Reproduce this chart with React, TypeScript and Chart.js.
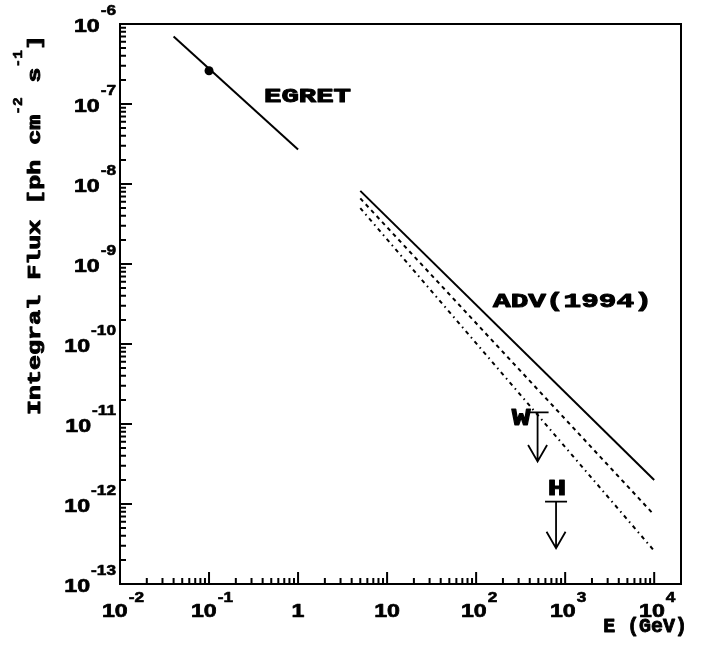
import React, { useEffect, useRef } from "react";
import { Chart, registerables } from "chart.js";

Chart.register(...registerables);

// ---- data ----
const egretE = [0.04, 1];
const egretFlux = [7.0e-7, 2.7e-8];
const egretPointE = [0.1];
const egretPointFlux = [2.6e-7];

const advE = [5, 10000];
const advSolidFlux = [8.2e-9, 2.0e-12];
const advDashedFlux = [6.6e-9, 7.3e-13];
const advDashDotFlux = [5.0e-9, 2.6e-13];

const limitLabels = ["W", "H"];
const limitE = [490, 790];
const limitFlux = [1.4e-11, 1.07e-12];
const limitTipFlux = [3.4e-12, 2.8e-13];

const xMin = 0.01;
const xMax = 2e4;
const yMin = 1e-13;
const yMax = 1e-6;

const xDecades = [-2, -1, 0, 1, 2, 3, 4];
const xTickBase = ["10", "10", "1", "10", "10", "10", "10"];
const xTickExp = ["-2", "-1", "", "", "2", "3", "4"];
const yDecades = [-13, -12, -11, -10, -9, -8, -7, -6];
const yTickBase = ["10", "10", "10", "10", "10", "10", "10", "10"];
const yTickExp = ["-13", "-12", "-11", "-10", "-9", "-8", "-7", "-6"];

const xTitle = "E (GeV)";
const yTitleParts = ["Integral Flux [ph cm", "-2", " s", "-1", "]"];
const egretLabel = "EGRET";
const advLabel = "ADV(1994)";

const MONO = "'Liberation Mono', 'DejaVu Sans Mono', monospace";
const SANS = "'Liberation Sans', Arial, sans-serif";

type Seg = { t: string; size: number; family: string; sx: number; rise?: number; dx?: number; w?: number };

function drawRich(
  ctx: CanvasRenderingContext2D,
  segs: Seg[],
  x: number,
  y: number,
  align: "left" | "right" | "center",
  angle = 0
) {
  ctx.save();
  ctx.translate(x, y);
  if (angle) ctx.rotate(angle);
  const widths = segs.map((s) => {
    ctx.font = `bold ${s.size}px ${s.family}`;
    return ctx.measureText(s.t).width * s.sx + (s.dx || 0);
  });
  const total = widths.reduce((a, b) => a + b, 0);
  let cx = align === "left" ? 0 : align === "right" ? -total : -total / 2;
  segs.forEach((s, i) => {
    ctx.save();
    ctx.font = `bold ${s.size}px ${s.family}`;
    ctx.fillStyle = "#000";
    ctx.strokeStyle = "#000";
    ctx.textAlign = "left";
    ctx.textBaseline = "alphabetic";
    ctx.translate(cx + (s.dx || 0), -(s.rise || 0));
    ctx.scale(s.sx, 1);
    ctx.fillText(s.t, 0, 0);
    if (s.w) {
      ctx.lineWidth = s.w;
      ctx.lineJoin = "round";
      ctx.strokeText(s.t, 0, 0);
    }
    ctx.restore();
    cx += widths[i];
  });
  ctx.restore();
}

const framePlugin = {
  id: "rootFrame",
  beforeDraw(chart: any) {
    const ctx = chart.ctx as CanvasRenderingContext2D;
    ctx.save();
    ctx.fillStyle = "#fff";
    ctx.fillRect(0, 0, chart.width, chart.height);
    ctx.restore();
  },
  afterDraw(chart: any) {
    const ctx = chart.ctx as CanvasRenderingContext2D;
    const xs = chart.scales.x;
    const ys = chart.scales.y;
    const { left, right, top, bottom } = chart.chartArea;
    ctx.save();
    ctx.strokeStyle = "#000";
    ctx.lineWidth = 2;
    ctx.strokeRect(left, top, right - left, bottom - top);

    // ticks
    ctx.lineWidth = 2;
    ctx.beginPath();
    xDecades.forEach((d) => {
      for (let m = 1; m <= 9; m++) {
        const v = m * Math.pow(10, d);
        if (v < xMin || v >= xMax) continue;
        const px = xs.getPixelForValue(v);
        const len = m === 1 ? 12 : 6;
        ctx.moveTo(px, bottom);
        ctx.lineTo(px, bottom - len);
      }
    });
    yDecades.forEach((d) => {
      for (let m = 1; m <= 9; m++) {
        const v = m * Math.pow(10, d);
        if (v < yMin || v > yMax) continue;
        const py = ys.getPixelForValue(v);
        const len = m === 1 ? 12 : 6;
        ctx.moveTo(left, py);
        ctx.lineTo(left + len, py);
      }
    });
    ctx.stroke();

    // x tick labels
    xDecades.forEach((d, i) => {
      const px = xs.getPixelForValue(Math.pow(10, d));
      const segs: Seg[] = [{ t: xTickBase[i], size: 19, family: SANS, sx: 1.22, w: 0.7 }];
      if (xTickExp[i]) segs.push({ t: xTickExp[i], size: 15, family: SANS, sx: 1.15, rise: 15.5, dx: 1, w: 0.6 });
      drawRich(ctx, segs, px + (xTickExp[i] ? 3 : 0), 617, "center");
    });
    // y tick labels
    yDecades.forEach((d, i) => {
      const py = ys.getPixelForValue(Math.pow(10, d));
      const segs: Seg[] = [
        { t: yTickBase[i], size: 19, family: SANS, sx: 1.22, w: 0.7 },
        { t: yTickExp[i], size: 15, family: SANS, sx: 1.15, rise: 16.5, dx: 1, w: 0.6 },
      ];
      drawRich(ctx, segs, 116, py + 7.5, "right");
    });

    // axis titles
    drawRich(ctx, [{ t: xTitle, size: 21, family: MONO, sx: 0.95, w: 0.9 }], 687, 632, "right");
    const ySegs: Seg[] = yTitleParts.map((t, i) =>
      i % 2 === 1
        ? { t, size: 12, family: MONO, sx: 1.2, rise: 18, w: 0.6 }
        : { t, size: 18, family: MONO, sx: 1.39, w: 0.9 }
    );
    drawRich(ctx, ySegs, 40, 415, "left", -Math.PI / 2);

    // annotations
    drawRich(ctx, [{ t: egretLabel, size: 20, family: MONO, sx: 1.45, w: 1 }], 264, 102, "left");
    drawRich(ctx, [{ t: advLabel, size: 21, family: MONO, sx: 1.4, w: 1 }], 493, 307, "left");

    // upper-limit arrows
    ctx.lineWidth = 1.8;
    limitE.forEach((e, i) => {
      const px = xs.getPixelForValue(e);
      const py0 = ys.getPixelForValue(limitFlux[i]);
      const py1 = ys.getPixelForValue(limitTipFlux[i]);
      ctx.beginPath();
      ctx.moveTo(px - 11, py0);
      ctx.lineTo(px + 11, py0);
      ctx.moveTo(px, py0);
      ctx.lineTo(px, py1);
      ctx.moveTo(px - 9.5, py1 - 16.5);
      ctx.lineTo(px, py1);
      ctx.lineTo(px + 9.5, py1 - 16.5);
      ctx.stroke();
      if (i === 0) {
        drawRich(ctx, [{ t: limitLabels[i], size: 24, family: MONO, sx: 1.3, w: 1 }], px - 7, py0 + 12.5, "right");
      } else {
        drawRich(ctx, [{ t: limitLabels[i], size: 22, family: MONO, sx: 1.4, w: 1 }], px + 1, py0 - 6.5, "center");
      }
    });
    ctx.restore();
  },
};

export default function App() {
  const ref = useRef<HTMLCanvasElement | null>(null);
  useEffect(() => {
    const canvas = ref.current;
    if (!canvas) return;
    const pts = (xs: number[], ys: number[]) => xs.map((x, i) => ({ x, y: ys[i] }));
    const chart = new Chart(canvas, {
      type: "scatter",
      data: {
        datasets: [
          { data: pts(egretE, egretFlux), showLine: true, borderColor: "#000", borderWidth: 2, pointRadius: 0 },
          {
            data: pts(egretPointE, egretPointFlux),
            showLine: false,
            pointRadius: 4.5,
            pointBackgroundColor: "#000",
            pointBorderColor: "#000",
            pointBorderWidth: 0,
          },
          { data: pts(advE, advSolidFlux), showLine: true, borderColor: "#000", borderWidth: 2, pointRadius: 0 },
          {
            data: pts(advE, advDashedFlux),
            showLine: true,
            borderColor: "#000",
            borderWidth: 2,
            borderDash: [4, 4],
            pointRadius: 0,
          },
          {
            data: pts(advE, advDashDotFlux),
            showLine: true,
            borderColor: "#000",
            borderWidth: 2,
            borderDash: [4, 4, 1.5, 4],
            pointRadius: 0,
          },
        ],
      },
      options: {
        responsive: false,
        animation: false,
        events: [],
        layout: { padding: { left: 120, top: 24, right: 20, bottom: 64 } },
        plugins: { legend: { display: false }, tooltip: { enabled: false } },
        scales: {
          x: { type: "logarithmic", display: false, min: xMin, max: xMax },
          y: { type: "logarithmic", display: false, min: yMin, max: yMax },
        },
      },
      plugins: [framePlugin],
    });
    return () => chart.destroy();
  }, []);
  return (
    <div style={{ position: "absolute", left: 0, top: 0, width: 701, height: 648 }}>
      <canvas ref={ref} width={701} height={648} style={{ display: "block" }} />
    </div>
  );
}
